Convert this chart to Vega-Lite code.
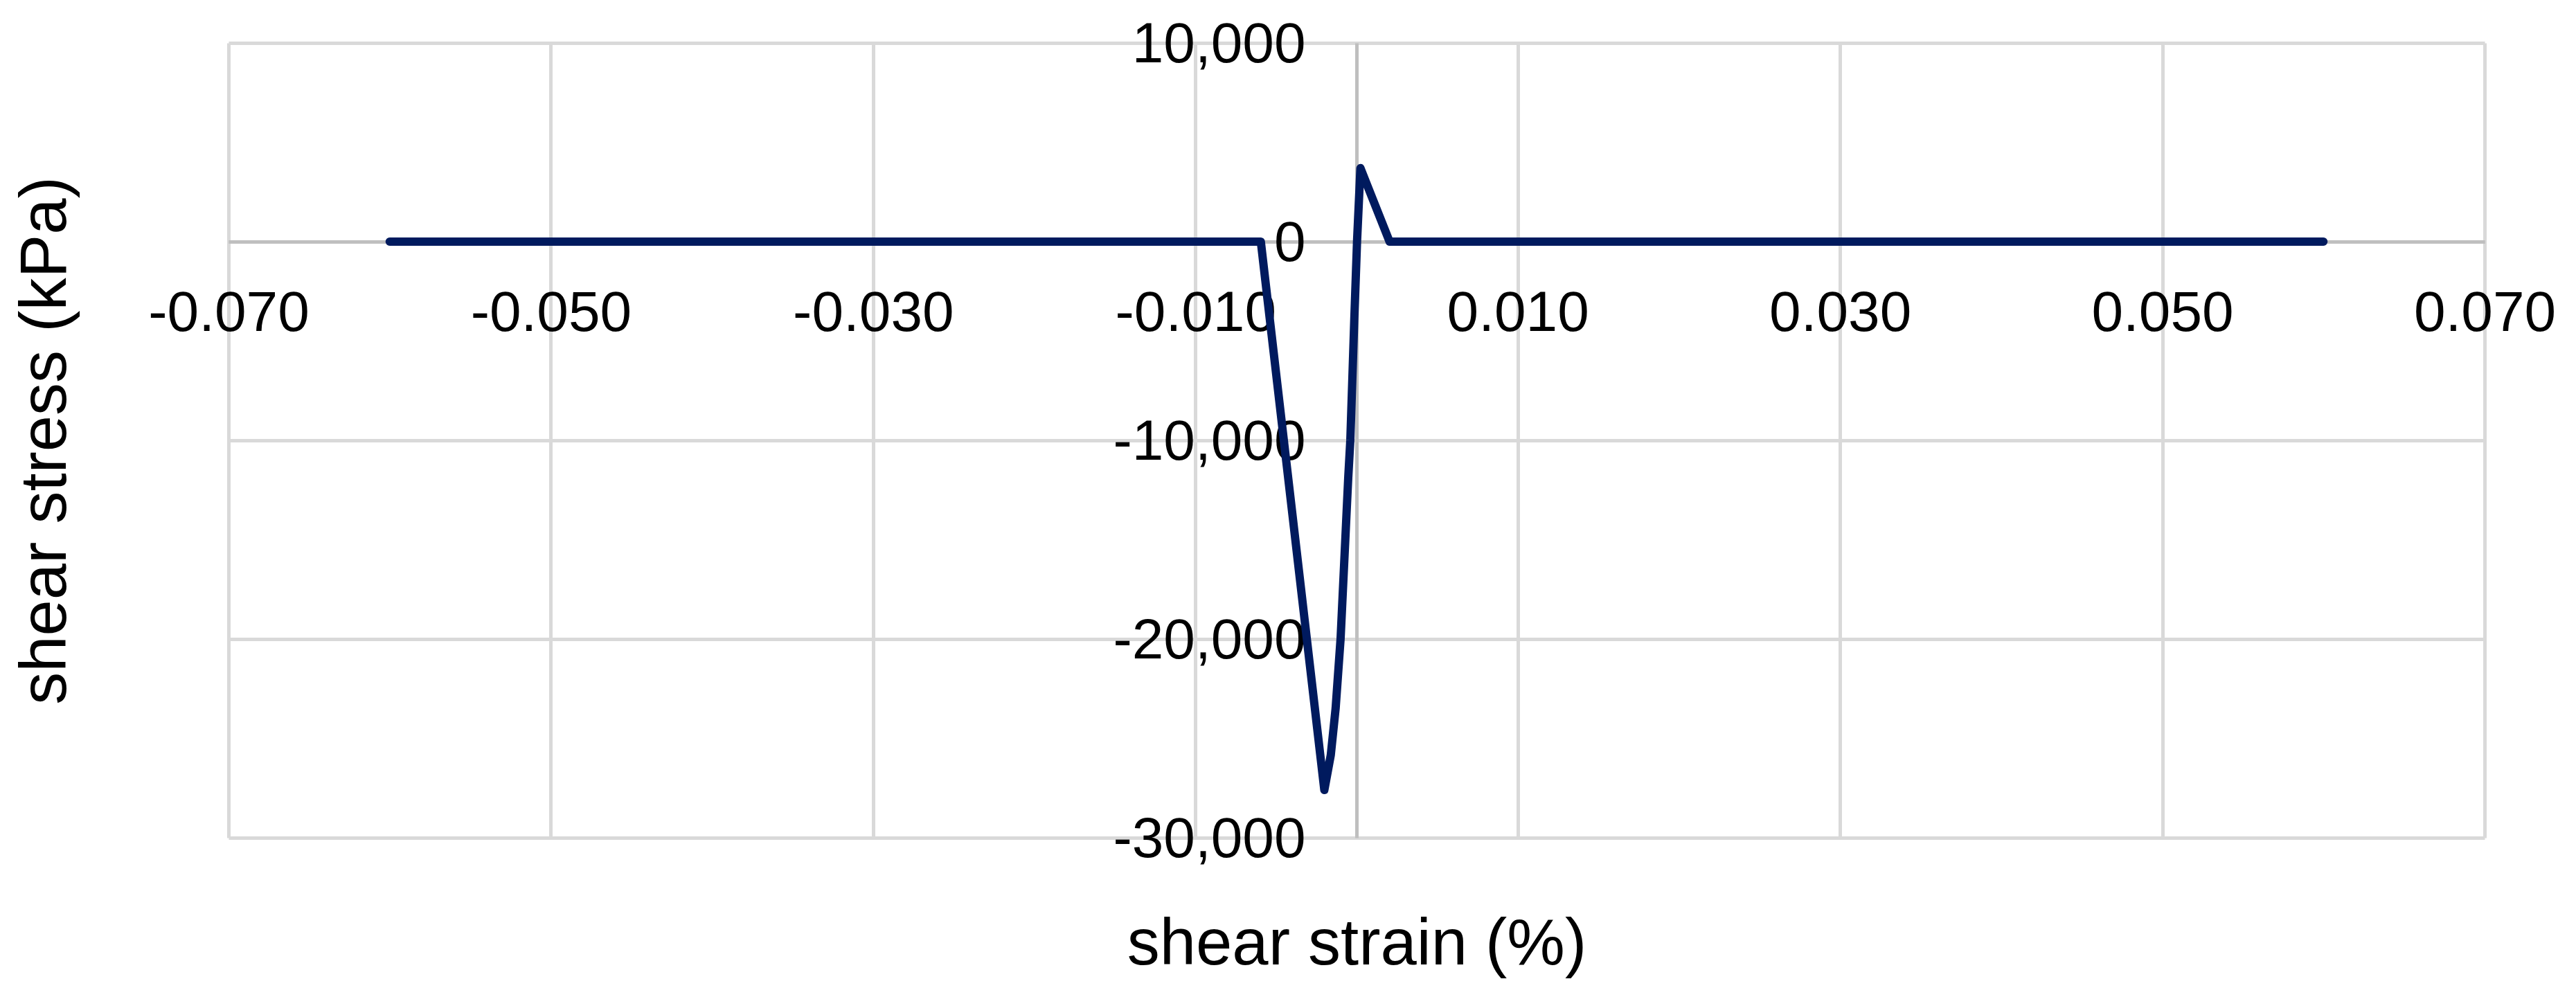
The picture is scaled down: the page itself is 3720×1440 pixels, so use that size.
{
  "$schema": "https://vega.github.io/schema/vega-lite/v6.json",
  "autosize": "none",
  "width": 3258,
  "height": 1148,
  "padding": {"left": 330, "top": 62, "right": 132, "bottom": 230},
  "background": "white",
  "config": {
    "view": {"stroke": null},
    "locale": {"number": {"decimal": ".", "thousands": ",", "grouping": [3], "currency": ["$", ""], "minus": "-"}},
    "axis": {"labelFont": "Liberation Sans", "titleFont": "Liberation Sans", "labelColor": "#000000", "titleColor": "#000000", "titleFontWeight": "normal", "labelLimit": 0, "titleLimit": 0}
  },
  "data": {
    "values": [
      {"strain": -0.06, "stress": 0},
      {"strain": -0.00594, "stress": 0},
      {"strain": -0.002, "stress": -27600},
      {"strain": -0.0016, "stress": -25840},
      {"strain": -0.0013, "stress": -23500},
      {"strain": -0.00099, "stress": -19975},
      {"strain": -0.000516, "stress": -11880},
      {"strain": -0.000387, "stress": -10000},
      {"strain": -0.000142, "stress": -3960},
      {"strain": 0.00003, "stress": 0},
      {"strain": 0.00024, "stress": 3700},
      {"strain": 0.00205, "stress": 0},
      {"strain": 0.06, "stress": 0}
    ]
  },
  "mark": {"type": "line", "color": "#001a5e", "strokeWidth": 12, "strokeJoin": "round", "strokeCap": "round"},
  "encoding": {
    "x": {
      "field": "strain",
      "type": "quantitative",
      "scale": {"domain": [-0.07, 0.07], "nice": false, "zero": false},
      "axis": {
        "title": "shear strain (%)",
        "values": [-0.07, -0.05, -0.03, -0.01, 0.01, 0.03, 0.05, 0.07],
        "format": ".3f",
        "offset": -861,
        "domainColor": "#bfbfbf",
        "domainWidth": 5,
        "ticks": false,
        "tickSize": 0,
        "labelFontSize": 82,
        "labelPadding": 63,
        "labelFlush": false,
        "labelOverlap": false,
        "grid": true,
        "gridColor": "#d9d9d9",
        "gridWidth": 5,
        "titleFontSize": 94,
        "titleX": 1629,
        "titleY": 1043,
        "titleBaseline": "alphabetic",
        "titleAlign": "center"
      }
    },
    "y": {
      "field": "stress",
      "type": "quantitative",
      "scale": {"domain": [-30000, 10000], "nice": false, "zero": false},
      "axis": {
        "title": "shear stress (kPa)",
        "values": [-30000, -20000, -10000, 0, 10000],
        "format": ",.0f",
        "offset": -1629,
        "domainColor": "#bfbfbf",
        "domainWidth": 5,
        "ticks": false,
        "tickSize": 0,
        "labelFontSize": 82,
        "labelPadding": 74,
        "labelOffset": 2,
        "labelBaseline": "middle",
        "labelAlign": "right",
        "labelFlush": false,
        "labelOverlap": false,
        "grid": true,
        "gridColor": {"condition": {"test": "datum.value === 0", "value": "#bfbfbf"}, "value": "#d9d9d9"},
        "gridWidth": 5,
        "titleFontSize": 94,
        "titleAngle": -90,
        "titleX": -1865,
        "titleY": 574,
        "titleBaseline": "alphabetic",
        "titleAlign": "center"
      }
    }
  }
}
